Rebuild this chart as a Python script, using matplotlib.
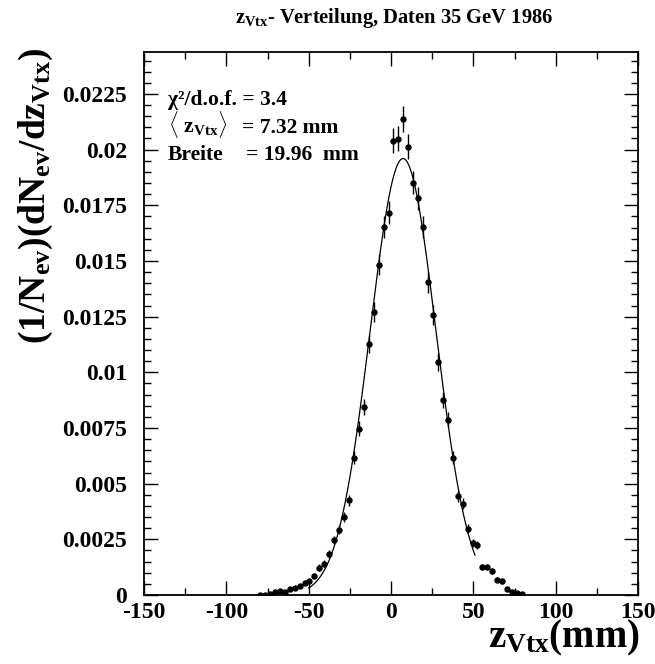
import numpy as np
import matplotlib
matplotlib.use("Agg")
import matplotlib.pyplot as plt

plt.rcParams['font.family'] = ['Liberation Serif', 'DejaVu Serif']
plt.rcParams['font.weight'] = 'bold'
plt.rcParams['mathtext.fontset'] = 'custom'
plt.rcParams['mathtext.rm'] = 'Liberation Serif:bold'
plt.rcParams['mathtext.it'] = 'Liberation Serif:bold'
plt.rcParams['mathtext.bf'] = 'Liberation Serif:bold'

# ---- data ----
z_centers = [-79.5, -76.5, -73.5, -70.5, -67.5, -64.5, -61.5, -58.5, -55.5, -52.5,
             -49.5, -46.5, -43.5, -40.5, -37.5, -34.5, -31.5, -28.5, -25.5, -22.5,
             -19.5, -16.5, -13.5, -10.5, -7.5, -4.5, -1.5, 1.5, 4.5, 7.5,
             10.5, 13.5, 16.5, 19.5, 22.5, 25.5, 28.5, 31.5, 34.5, 37.5,
             40.5, 43.5, 46.5, 49.5, 52.5, 55.5, 58.5, 61.5, 64.5, 67.5,
             70.5, 73.5, 76.5, 79.5]
density = [0.00002, 0.00002, 0.00003, 0.00013, 0.00019, 0.00013, 0.00026, 0.00033, 0.00040, 0.00054,
           0.00063, 0.00086, 0.00123, 0.00141, 0.00183, 0.00248, 0.00294, 0.00350, 0.00425, 0.00617,
           0.00747, 0.00846, 0.01126, 0.01270, 0.01483, 0.01653, 0.01717, 0.02040, 0.02048, 0.02138,
           0.02012, 0.01852, 0.01782, 0.01651, 0.01404, 0.01257, 0.01045, 0.00874, 0.00787, 0.00617,
           0.00445, 0.00410, 0.00298, 0.00234, 0.00223, 0.00126, 0.00126, 0.00108, 0.00069, 0.00061,
           0.00026, 0.00015, 0.00010, 0.00003]
errors = [0.00002, 0.00002, 0.00002, 0.00004, 0.00005, 0.00004, 0.00006, 0.00007, 0.00008, 0.00009,
          0.00010, 0.00011, 0.00014, 0.00015, 0.00017, 0.00019, 0.00021, 0.00023, 0.00025, 0.00030,
          0.00033, 0.00036, 0.00041, 0.00044, 0.00047, 0.00050, 0.00051, 0.00056, 0.00056, 0.00058,
          0.00056, 0.00053, 0.00052, 0.00050, 0.00046, 0.00044, 0.00040, 0.00036, 0.00034, 0.00030,
          0.00026, 0.00025, 0.00021, 0.00019, 0.00018, 0.00014, 0.00014, 0.00013, 0.00010, 0.00010,
          0.00006, 0.00005, 0.00004, 0.00002]

fit_amplitude = 0.0196
fit_mean = 7.32
fit_sigma = 19.96
fit_range = [-50.0, 51.0]
chi2_ndof = 3.4

x_ticks = [-150, -100, -50, 0, 50, 100, 150]
x_ticklabels = ['-150', '-100', '-50', '0', '50', '100', '150']
y_ticks = [0, 0.0025, 0.005, 0.0075, 0.01, 0.0125, 0.015, 0.0175, 0.02, 0.0225]
y_ticklabels = ['0', '0.0025', '0.005', '0.0075', '0.01', '0.0125', '0.015', '0.0175', '0.02', '0.0225']

# ---- figure ----
fig = plt.figure(figsize=(6.55, 6.64), dpi=100)
ax = fig.add_axes([144/655, 1-595/664, (638-144)/655, (595-52.3)/664])

ax.errorbar(z_centers, density, yerr=errors, fmt='o', color='black',
            markersize=3.6, elinewidth=1.0, capsize=0)

xf = np.linspace(fit_range[0], fit_range[1], 400)
yf = fit_amplitude * np.exp(-0.5 * ((xf - fit_mean) / fit_sigma) ** 2)
ax.plot(xf, yf, color='black', lw=0.9)

ax.set_xlim(-150, 150)
ax.set_ylim(0, 0.02437)
ax.set_xticks(x_ticks)
ax.set_xticklabels(x_ticklabels)
ax.set_yticks(y_ticks)
ax.set_yticklabels(y_ticklabels)
ax.set_xticks(np.arange(-125, 150, 50), minor=True)
ax.set_yticks(np.arange(0, 0.0244, 0.0005), minor=True)
ax.tick_params(which='both', direction='in', top=True, right=True, width=1.0,
               labelsize=17)
ax.tick_params(which='major', length=10)
ax.tick_params(which='minor', length=5)
ax.tick_params(axis='y', pad=12)
ax.tick_params(axis='x', pad=5)
for lab in ax.get_xticklabels() + ax.get_yticklabels():
    lab.set_fontweight('bold')
for sp in ax.spines.values():
    sp.set_linewidth(1.3)

# stats box text
fs = 15.5
fig.text(168/655, 1-105/664, '\u03c7\u00b2/d.o.f. = %.1f' % chi2_ndof, fontsize=fs, va='baseline', ha='left')
fig.text(168/655, 1-133/664, r'$\langle$ z$_{\rm Vtx}\rangle$', fontsize=fs, va='baseline', ha='left')
fig.text(242/655, 1-133/664, '= %.2f mm' % fit_mean, fontsize=fs, va='baseline', ha='left')
fig.text(168/655, 1-160/664, 'Breite', fontsize=fs, va='baseline', ha='left')
fig.text(246/655, 1-160/664, '= %.2f  mm' % fit_sigma, fontsize=fs, va='baseline', ha='left')

# title and axis labels
fig.text(394/655, 1-23/664, r'z$_{\rm Vtx}$- Verteilung, Daten 35 GeV 1986',
         ha='center', va='baseline', fontsize=14.8, fontweight='bold')
fig.text(36/655, 1-48/664, r'(1/N$_{\rm ev}$)(dN$_{\rm ev}$/dz$_{\rm Vtx}$)',
         rotation=90, ha='center', va='top', fontsize=27, fontweight='bold')
fig.text(640/655, 1-647/664, r'z$_{\rm Vtx}$(mm)', ha='right', va='baseline',
         fontsize=28, fontweight='bold')

fig.savefig('out.png', dpi=100)
